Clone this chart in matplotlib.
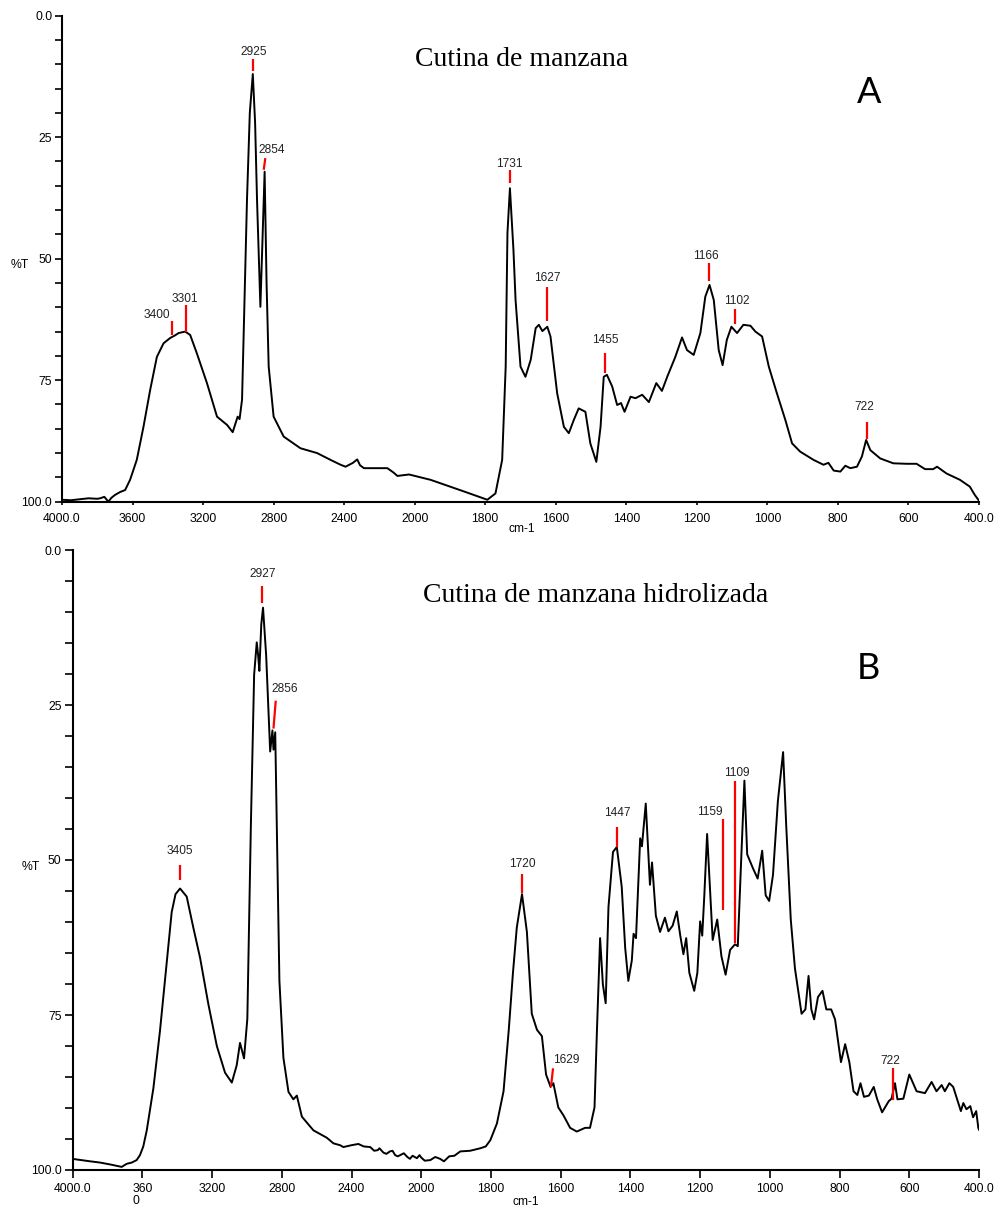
# Espectros FTIR: cutina de manzana (A) y cutina de manzana hidrolizada (B)

import numpy as np
import matplotlib.pyplot as plt

# ---- Datos panel A: cutina de manzana (numero de onda cm-1, %T) ----
wn_a = [4000, 3950, 3900, 3850, 3800, 3784, 3760, 3737, 3720, 3699, 3670, 3642, 3614, 3576,
        3538, 3500, 3462, 3424, 3386, 3360, 3339, 3301, 3273, 3235, 3178, 3121, 3064, 3032,
        3004, 2993, 2979, 2951, 2935, 2918, 2905, 2894, 2875, 2862, 2851, 2840, 2828, 2800,
        2743, 2648, 2553, 2477, 2420, 2392, 2350, 2326, 2310, 2288, 2231, 2155, 2120, 2098,
        2032, 1955, 1860, 1794, 1771, 1752, 1742, 1737, 1730, 1720, 1714, 1700, 1686, 1671,
        1657, 1648, 1638, 1624, 1615, 1596, 1577, 1563, 1549, 1535, 1516, 1502, 1485, 1473,
        1464, 1455, 1440, 1426, 1415, 1405, 1388, 1374, 1355, 1336, 1315, 1299, 1284, 1261,
        1242, 1228, 1209, 1190, 1176, 1164, 1152, 1138, 1127, 1115, 1102, 1086, 1068, 1048,
        1034, 1015, 996, 973, 949, 930, 907, 869, 841, 827, 812, 793, 779, 765, 746, 732,
        720, 708, 680, 643, 605, 577, 553, 530, 519, 492, 454, 426, 412, 402, 400]
t_a = [99.6, 99.7, 99.5, 99.3, 99.4, 99.3, 99.0, 100.0, 99.2, 98.6, 98.0, 97.6, 95.5, 91.4,
       84.6, 77.0, 70.2, 67.4, 66.3, 65.8, 65.3, 65.0, 65.7, 69.5, 75.6, 82.5, 84.2, 85.7,
       82.5, 83.0, 79.0, 37.9, 20.0, 12.0, 22.0, 38.0, 59.9, 45.0, 32.1, 55.0, 72.2, 82.5,
       86.6, 89.0, 90.0, 91.4, 92.4, 92.8, 92.0, 91.3, 92.5, 93.1, 93.1, 93.1, 94.0, 94.7,
       94.4, 95.5, 97.9, 99.6, 98.3, 91.4, 72.2, 44.7, 35.5, 48.2, 58.5, 72.2, 74.3, 70.8,
       64.3, 63.6, 64.9, 64.0, 66.0, 77.7, 84.6, 85.9, 83.2, 80.8, 81.5, 88.0, 91.8, 84.6,
       74.3, 73.9, 76.3, 80.1, 79.7, 81.5, 78.4, 78.7, 78.0, 79.5, 75.6, 77.2, 74.3, 70.2,
       66.2, 68.8, 69.8, 65.3, 57.8, 55.4, 58.5, 68.8, 71.9, 66.7, 64.0, 65.3, 63.6, 63.8,
       65.0, 66.0, 72.2, 77.7, 83.2, 88.0, 89.7, 91.4, 92.4, 92.0, 93.6, 93.8, 92.6, 93.1, 92.8, 90.7,
       87.3, 89.4, 91.1, 92.1, 92.2, 92.2, 93.3, 93.3, 92.8, 94.2, 95.5, 96.9, 98.6, 99.6, 99.8]

# Picos marcados A
picos_a = ['3400', '3301', '2925', '2854', '1731', '1627', '1455', '1166', '1102', '722']
pa_x_top = [3377, 3299, 2916, 2847, 1730, 1626, 1459, 1166, 1092, 718]
pa_x_bot = [3377, 3299, 2916, 2856, 1730, 1626, 1459, 1166, 1092, 718]
pa_y_top = [62.8, 59.5, 9.0, 29.3, 31.7, 55.9, 69.5, 50.9, 60.3, 83.7]
pa_y_bot = [65.6, 65.0, 11.4, 31.7, 34.5, 62.8, 73.5, 54.6, 63.4, 87.0]
pa_lab_x = [3462, 3305, 2915, 2812, 1731, 1624, 1459, 1174, 1087, 726]
pa_lab_y = [61.6, 58.3, 7.4, 27.6, 30.5, 54.0, 66.7, 49.4, 58.7, 80.5]

# ---- Datos panel B: cutina de manzana hidrolizada ----
wn_b = [4000, 3977, 3900, 3843, 3786, 3719, 3690, 3661, 3633, 3614, 3595, 3575, 3537, 3499,
        3460, 3432, 3410, 3384, 3346, 3308, 3269, 3222, 3173, 3126, 3087, 3059, 3040, 3017,
        2998, 2978, 2959, 2944, 2936, 2929, 2918, 2908, 2890, 2867, 2854, 2848, 2838, 2829,
        2814, 2791, 2762, 2734, 2714, 2685, 2619, 2542, 2504, 2466, 2447, 2400, 2361, 2330,
        2293, 2270, 2250, 2240, 2217, 2200, 2180, 2165, 2150, 2135, 2121, 2100, 2080, 2065,
        2050, 2025, 2010, 2000, 1990, 1974, 1960, 1946, 1935, 1920, 1905, 1888,
        1860, 1831, 1815, 1802, 1783, 1764, 1749, 1737, 1726, 1711, 1697, 1683, 1668, 1654,
        1642, 1629, 1621, 1607, 1592, 1573, 1554, 1530, 1516, 1503, 1496, 1487, 1479, 1471,
        1463, 1450, 1439, 1425, 1415, 1406, 1396, 1391, 1384, 1372, 1367, 1356, 1344, 1338,
        1327, 1315, 1301, 1291, 1279, 1267, 1257, 1248, 1240, 1231, 1217, 1208, 1200, 1194,
        1188, 1180, 1172, 1164, 1151, 1139, 1127, 1114, 1100, 1092, 1083, 1073, 1065, 1048,
        1035, 1022, 1012, 1002, 991, 977, 962, 953, 940, 928, 909, 898, 889, 881, 873, 862,
        849, 838, 824, 813, 796, 784, 772, 760, 749, 740, 730, 716, 702, 692, 678, 659,
        651, 641, 634, 617, 600, 579, 555, 536, 522, 507, 498, 485, 474, 461, 452, 445,
        436, 425, 417, 408, 402, 400]
t_b = [98.2, 98.3, 98.6, 98.8, 99.1, 99.5, 99.0, 98.8, 98.4, 97.6, 96.2, 93.6, 86.8, 77.5,
       66.4, 58.4, 55.5, 54.6, 55.9, 60.9, 65.8, 73.2, 80.0, 84.3, 85.9, 83.1, 79.5, 82.0,
       75.6, 44.8, 20.1, 14.9, 17.0, 19.5, 12.0, 9.3, 17.0, 32.5, 29.1, 32.2, 29.4, 44.8,
       69.5, 81.9, 87.4, 88.6, 88.0, 91.4, 93.6, 94.8, 95.7, 96.0, 96.3, 96.0, 95.8, 96.2,
       96.3, 96.9, 96.8, 96.5, 97.2, 97.4, 97.0, 96.9, 97.6, 97.8, 97.6, 97.3, 97.9, 98.2,
       97.7, 98.1, 97.6, 98.0, 98.5, 98.4, 97.9, 98.2, 98.6, 97.8, 97.7, 97.0,
       96.9, 96.5, 96.2, 95.2, 92.5, 87.3, 77.4, 68.2, 60.9, 55.5, 61.6, 74.8, 77.4, 78.4,
       84.6, 86.6, 86.0, 89.9, 91.2, 93.2, 93.8, 93.2, 93.2, 89.9, 77.4, 62.6, 70.1, 73.1,
       57.6, 48.7, 47.9, 54.3, 64.2, 69.5, 66.2, 61.9, 62.6, 46.5, 47.8, 40.9, 54.0, 50.4,
       59.0, 61.6, 59.3, 61.5, 60.6, 58.3, 62.2, 65.2, 62.6, 68.2, 71.1, 68.2, 59.9, 62.2,
       55.7, 45.8, 54.3, 62.9, 59.6, 65.5, 68.5, 64.5, 63.6, 63.9, 51.0, 37.2, 49.1, 51.4,
       53.0, 48.5, 55.7, 56.6, 52.4, 40.5, 32.6, 44.5, 59.6, 67.5, 74.8, 74.1, 68.7, 74.1, 75.7, 72.1,
       71.1, 74.1, 74.1, 75.7, 82.6, 79.7, 82.6, 87.3, 87.9, 86.0, 88.2, 88.0, 86.6, 88.6, 90.7, 88.9,
       88.5, 86.0, 88.6, 88.5, 84.6, 87.3, 87.6, 85.8, 87.3, 86.3, 87.3, 86.0, 86.6, 88.9, 90.5, 89.2,
       90.2, 89.7, 91.5, 90.5, 93.2, 93.5]

# Picos marcados B
picos_b = ['3405', '2927', '2856', '1720', '1629', '1447', '1159', '1109', '722']
pb_x_top = [3384, 2915, 2835, 1711, 1622, 1439, 1135, 1100, 648]
pb_x_bot = [3384, 2915, 2848, 1711, 1628, 1439, 1135, 1100, 648]
pb_y_top = [50.8, 5.8, 24.3, 52.2, 83.6, 44.7, 43.4, 37.2, 83.6]
pb_y_bot = [53.3, 8.6, 28.8, 55.3, 86.6, 47.9, 58.1, 63.4, 88.7]
pb_lab_x = [3384, 2909, 2785, 1711, 1585, 1437, 1171, 1095, 655]
pb_lab_y = [48.5, 3.9, 22.4, 50.6, 82.3, 42.4, 42.2, 35.9, 82.5]

x_ticks = [4000, 3600, 3200, 2800, 2400, 2000, 1800, 1600, 1400, 1200, 1000, 800, 600, 400]
x_labels_a = ['4000.0', '3600', '3200', '2800', '2400', '2000', '1800', '1600', '1400',
              '1200', '1000', '800', '600', '400.0']
x_labels_b = ['4000.0', '360\n0'] + x_labels_a[2:]
y_ticks = [0, 25, 50, 75, 100]
y_labels = ['0.0', '25', '50', '75', '100.0']

W, H = 1003, 1209
SANS = 'Liberation Sans'


# Escala del eje x: por encima de 2000 cm-1 comprimida a la mitad (como en el equipo)
def fwd(x):
    x = np.asarray(x, dtype=float)
    return np.where(x > 2000, 2000 + (x - 2000) / 2, x)


def inv(u):
    u = np.asarray(u, dtype=float)
    return np.where(u > 2000, 2000 + (u - 2000) * 2, u)


def rect(left, top, right, bottom):
    return [left / W, 1 - bottom / H, (right - left) / W, (bottom - top) / H]


def preparar_eje(ax, labels, xtick_len, ytick_len, xpad):
    ax.set_xscale('function', functions=(fwd, inv))
    ax.set_xlim(4000, 400)
    ax.set_ylim(100, 0)
    for s in ['top', 'right']:
        ax.spines[s].set_visible(False)
    for s in ['left', 'bottom']:
        ax.spines[s].set_linewidth(1.5)
    ax.set_xticks(x_ticks, labels)
    ax.set_yticks(y_ticks, y_labels)
    ax.set_yticks(np.arange(0, 101, 5), minor=True)
    ax.xaxis.set_minor_locator(plt.NullLocator())
    ax.tick_params(axis='x', which='major', length=xtick_len, width=1.2, pad=xpad,
                   labelsize=8.8)
    ax.tick_params(axis='y', which='both', length=ytick_len, width=1.2, pad=2,
                   labelsize=8.8)
    for lab in ax.get_xticklabels() + ax.get_yticklabels():
        lab.set_fontfamily(SANS)
        lab.set_multialignment('left')
        lab.set_linespacing(1.1)


def marcar_picos(ax, nombres, xt, xb, yt, yb, lx, ly):
    for i in range(len(nombres)):
        ax.plot([xt[i], xb[i]], [yt[i], yb[i]], color='red', lw=1.6, solid_capstyle='butt')
        ax.text(lx[i], ly[i], nombres[i], ha='center', va='center', fontsize=8.6,
                family=SANS, color='#222222')


fig = plt.figure(figsize=(W / 100, H / 100), dpi=100)

# Panel A
axA = fig.add_axes(rect(62, 15.7, 979, 501.7))
preparar_eje(axA, x_labels_a, 2, 5, 6)
axA.plot(wn_a, t_a, color='black', lw=1.4)
marcar_picos(axA, picos_a, pa_x_top, pa_x_bot, pa_y_top, pa_y_bot, pa_lab_x, pa_lab_y)
fig.text(521.7 / W, 1 - 60 / H, 'Cutina de manzana', ha='center', va='center',
         family='Liberation Serif', fontsize=20)
fig.text(869 / W, 1 - 92.7 / H, 'A', ha='center', va='center', family='Lato', fontsize=26)
fig.text(20 / W, 1 - 265 / H, '%T', ha='center', va='center', family=SANS, fontsize=8.8)
fig.text(521.7 / W, 1 - 529.3 / H, 'cm-1', ha='center', va='center', family=SANS, fontsize=8.6)

# Panel B
axB = fig.add_axes(rect(72.7, 550, 979, 1170))
preparar_eje(axB, x_labels_b, 6, 6, 3)
axB.plot(wn_b, t_b, color='black', lw=1.4)
marcar_picos(axB, picos_b, pb_x_top, pb_x_bot, pb_y_top, pb_y_bot, pb_lab_x, pb_lab_y)
fig.text(595.5 / W, 1 - 595 / H, 'Cutina de manzana hidrolizada', ha='center', va='center',
         family='Liberation Serif', fontsize=20)
fig.text(868.7 / W, 1 - 668.6 / H, 'B', ha='center', va='center', family='Lato', fontsize=26)
fig.text(31 / W, 1 - 866.5 / H, '%T', ha='center', va='center', family=SANS, fontsize=8.8)
fig.text(525.8 / W, 1 - 1202 / H, 'cm-1', ha='center', va='center', family=SANS, fontsize=8.6)

plt.savefig('out.png', dpi=100)
